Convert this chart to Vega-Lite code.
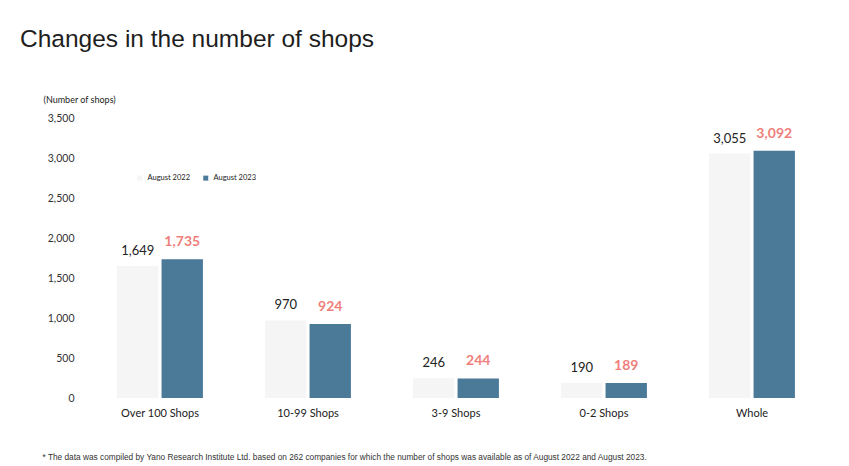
{
  "$schema": "https://vega.github.io/schema/vega-lite/v6.json",
  "width": 740,
  "height": 280,
  "autosize": {"type": "none"},
  "padding": {"left": 86, "top": 118, "right": 23, "bottom": 68},
  "background": "white",
  "title": {
    "text": "Changes in the number of shops",
    "anchor": "start",
    "frame": "group",
    "font": "Liberation Sans",
    "fontSize": 24.5,
    "fontWeight": "normal",
    "color": "#1e1e1e",
    "dx": -66,
    "offset": 43
  },
  "config": {"view": {"stroke": null}},
  "data": {
    "values": [
      {"category": "Over 100 Shops", "year": "August 2022", "value": 1649},
      {"category": "Over 100 Shops", "year": "August 2023", "value": 1735},
      {"category": "10-99 Shops", "year": "August 2022", "value": 970},
      {"category": "10-99 Shops", "year": "August 2023", "value": 924},
      {"category": "3-9 Shops", "year": "August 2022", "value": 246},
      {"category": "3-9 Shops", "year": "August 2023", "value": 244},
      {"category": "0-2 Shops", "year": "August 2022", "value": 190},
      {"category": "0-2 Shops", "year": "August 2023", "value": 189},
      {"category": "Whole", "year": "August 2022", "value": 3055},
      {"category": "Whole", "year": "August 2023", "value": 3092}
    ]
  },
  "encoding": {
    "x": {
      "field": "category",
      "type": "nominal",
      "sort": null,
      "scale": {"paddingInner": 0.42, "paddingOuter": 0.21},
      "axis": {
        "labelAngle": 0,
        "labelFont": "Lato",
        "labelFontSize": 11,
        "labelColor": "#222",
        "labelPadding": 9,
        "ticks": false,
        "domain": false,
        "title": "* The data was compiled by Yano Research Institute Ltd. based on 262 companies for which the number of shops was available as of August 2022 and August 2023.",
        "titleFont": "Liberation Sans",
        "titleFontSize": 8.3,
        "titleFontWeight": "normal",
        "titleColor": "#333",
        "titleAnchor": "start",
        "titleAlign": "left",
        "titleBaseline": "alphabetic",
        "titleX": -44,
        "titleY": 61
      }
    },
    "xOffset": {"field": "year", "type": "nominal", "scale": {"paddingInner": 0.07}},
    "y": {
      "field": "value",
      "type": "quantitative",
      "scale": {"domain": [0, 3500], "nice": false},
      "axis": {
        "values": [0, 500, 1000, 1500, 2000, 2500, 3000, 3500],
        "format": ",d",
        "grid": false,
        "ticks": false,
        "domain": false,
        "labelFont": "Lato",
        "labelFontSize": 10.5,
        "labelColor": "#333",
        "labelPadding": 12,
        "title": "(Number of shops)",
        "titleFont": "Lato",
        "titleFontSize": 9,
        "titleFontWeight": "normal",
        "titleColor": "#222",
        "titleAngle": 0,
        "titleAlign": "left",
        "titleBaseline": "bottom",
        "titleX": -43,
        "titleY": -14
      }
    }
  },
  "layer": [
    {
      "mark": {"type": "bar"},
      "encoding": {
        "color": {
          "field": "year",
          "type": "nominal",
          "scale": {"domain": ["August 2022", "August 2023"], "range": ["#f5f5f5", "#4b7a99"]},
          "legend": {
            "orient": "none",
            "legendX": 50,
            "legendY": 56,
            "direction": "horizontal",
            "title": null,
            "symbolType": "square",
            "symbolSize": 25,
            "labelFont": "Lato",
            "labelFontSize": 7.5,
            "labelColor": "#222",
            "columnPadding": 11
          }
        }
      }
    },
    {
      "transform": [{"filter": "datum.year == 'August 2022'"}],
      "mark": {"type": "text", "baseline": "bottom", "dy": -8, "font": "Lato", "fontSize": 13, "color": "#222"},
      "encoding": {"text": {"field": "value", "type": "quantitative", "format": ","}}
    },
    {
      "transform": [{"filter": "datum.year == 'August 2023'"}],
      "mark": {"type": "text", "baseline": "bottom", "dy": -10, "font": "Lato", "fontSize": 14, "fontWeight": "bold", "color": "#ef7f7b"},
      "encoding": {"text": {"field": "value", "type": "quantitative", "format": ","}}
    }
  ]
}
